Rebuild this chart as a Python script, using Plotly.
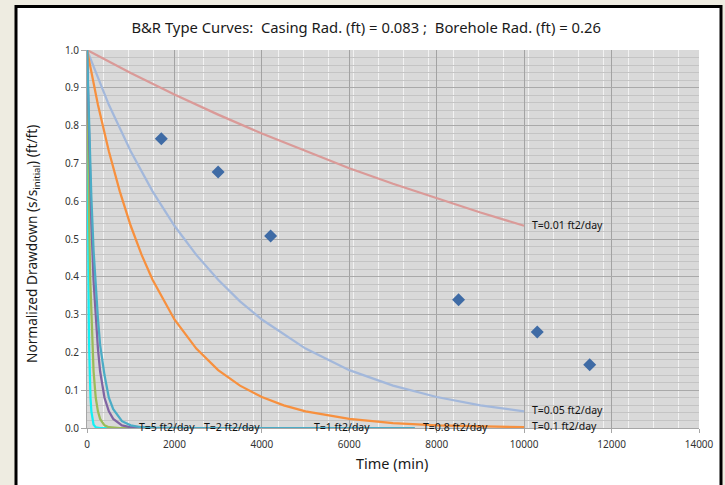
import plotly.graph_objects as go

# ---- data ----
t_001 = [0, 1000, 2000, 3000, 4000, 5000, 6000, 7000, 8000, 9000, 10000]
s_001 = [1.0, 0.939, 0.882, 0.829, 0.779, 0.732, 0.687, 0.646, 0.607, 0.570, 0.535]

t_005 = [0, 500, 1000, 1500, 2000, 2500, 3000, 3500, 4000, 5000, 6000, 7000, 8000, 9000, 10000]
s_005 = [1.0, 0.855, 0.732, 0.626, 0.535, 0.458, 0.392, 0.335, 0.287, 0.210, 0.153, 0.112, 0.082, 0.060, 0.044]

t_01 = [0, 250, 500, 750, 1000, 1250, 1500, 2000, 2500, 3000, 3500, 4000, 4500, 5000, 6000, 7000, 8000, 9000, 10000]
s_01 = [1.0, 0.855, 0.732, 0.626, 0.535, 0.458, 0.392, 0.287, 0.210, 0.153, 0.112, 0.082, 0.060, 0.044, 0.024, 0.013, 0.007, 0.004, 0.002]

t_5 = [0, 10, 20, 30, 40, 50, 60, 80, 100, 125, 150, 200, 300, 500, 1000]
s_5 = [1.0, 0.73, 0.54, 0.39, 0.29, 0.21, 0.15, 0.08, 0.044, 0.02, 0.009, 0.002, 0, 0, 0]

t_2 = [0, 25, 50, 75, 100, 150, 200, 250, 300, 400, 500, 750, 1000, 2500]
s_2 = [1.0, 0.73, 0.54, 0.39, 0.29, 0.15, 0.08, 0.044, 0.024, 0.007, 0.002, 0, 0, 0]

t_1 = [0, 50, 100, 150, 200, 250, 300, 400, 500, 600, 800, 1000, 1500, 2500, 5000]
s_1 = [1.0, 0.73, 0.54, 0.39, 0.29, 0.21, 0.15, 0.08, 0.044, 0.024, 0.007, 0.002, 0, 0, 0]

t_08 = [0, 50, 100, 150, 200, 250, 300, 400, 500, 600, 800, 1000, 1250, 1500, 2500, 5000, 7500]
s_08 = [1.0, 0.78, 0.61, 0.47, 0.37, 0.29, 0.22, 0.14, 0.08, 0.05, 0.018, 0.007, 0.002, 0.001, 0, 0, 0]

obs_t = [1700, 3000, 4200, 8500, 10300, 11500]
obs_s = [0.765, 0.677, 0.508, 0.339, 0.254, 0.167]

series = [
    ("T=0.01 ft2/day", t_001, s_001, "#DA9A98"),
    ("T=0.05 ft2/day", t_005, s_005, "#A3B8DB"),
    ("T=0.1 ft2/day", t_01, s_01, "#F7903E"),
    ("T=5 ft2/day", t_5, s_5, "#12F0F5"),
    ("T=2 ft2/day", t_2, s_2, "#9BBB59"),
    ("T=1 ft2/day", t_1, s_1, "#8064A2"),
    ("T=0.8 ft2/day", t_08, s_08, "#4BACC6"),
]

FONT = "Noto Sans"

fig = go.Figure()
for name, tx, sy, col in series:
    fig.add_trace(go.Scatter(x=tx, y=sy, mode="lines", name=name,
                             line=dict(color=col, width=2.25), hoverinfo="skip"))
fig.add_trace(go.Scatter(x=obs_t, y=obs_s, mode="markers", name="Observed",
                         marker=dict(symbol="diamond", size=10, color="#3F6BA5")))

# data labels at last point of each curve
for name, tx, sy, col in series:
    fig.add_annotation(x=tx[-1], y=sy[-1], xref="x", yref="y", text=name,
                       showarrow=False, xanchor="left", yanchor="middle",
                       xshift=7, yshift=1, borderpad=0,
                       font=dict(family=FONT, size=10.5, color="#111111"))

W, H = 725, 485
L, R, T, B = 87, 26, 50, 57
pw, ph = W - L - R, H - T - B

def px(x):
    return (x - L) / pw

def py(y):
    return (H - B - y) / ph

shapes = [
    dict(type="rect", xref="paper", yref="paper", layer="below",
         x0=px(16), x1=px(721), y0=py(495), y1=py(6.5),
         fillcolor="white", line=dict(color="black", width=3)),
    dict(type="rect", xref="paper", yref="paper", layer="below",
         x0=0, x1=1, y0=0, y1=1, fillcolor="#D9D9D9", line=dict(width=0)),
]

fig.update_layout(
    width=W, height=H,
    margin=dict(l=L, r=R, t=T, b=B, pad=0),
    paper_bgcolor="#EEECE1",
    plot_bgcolor="rgba(0,0,0,0)",
    showlegend=False,
    shapes=shapes,
    title=dict(text="B&R Type Curves:  Casing Rad. (ft) = 0.083 ;  Borehole Rad. (ft) = 0.26",
               x=0.505, xref="container", xanchor="center",
               y=1 - 28 / H, yref="container", yanchor="middle",
               font=dict(family=FONT, size=14.8, color="#1a1a1a")),
    xaxis=dict(range=[0, 14000], dtick=2000, tick0=0, tickformat="d",
               showgrid=True, gridcolor="#A3A3A3", gridwidth=1,
               minor=dict(tick0=366, dtick=572, showgrid=True, gridcolor="#F2F2F2", gridwidth=1),
               showline=True, linecolor="#A6A6A6", linewidth=1,
               ticks="outside", ticklen=4, tickcolor="#A6A6A6",
               ticklabelstandoff=3,
               tickfont=dict(family=FONT, size=10, color="#333333"),
               zeroline=False, fixedrange=True),
    yaxis=dict(range=[0, 1], dtick=0.1, tick0=0, tickformat=".1f",
               showgrid=True, gridcolor="#A9A9A9", gridwidth=1,
               minor=dict(dtick=0.02, showgrid=True, gridcolor="#C4C4C4", gridwidth=1),
               showline=True, linecolor="#A6A6A6", linewidth=1,
               ticks="outside", ticklen=5, tickcolor="#A6A6A6",
               tickfont=dict(family=FONT, size=10, color="#333333"),
               zeroline=False, fixedrange=True),
)

fig.add_annotation(text="Normalized Drawdown (s/s<sub>initial</sub>) (ft/ft)",
                   xref="paper", yref="paper", x=px(32), y=py(244),
                   showarrow=False, textangle=-90, xanchor="center", yanchor="middle",
                   font=dict(family=FONT, size=13.7, color="#1a1a1a"))
fig.add_annotation(text="Time (min)", xref="paper", yref="paper",
                   x=px(392), y=py(463), showarrow=False,
                   xanchor="center", yanchor="middle",
                   font=dict(family=FONT, size=14.5, color="#1a1a1a"))

fig.write_html("out.html")
